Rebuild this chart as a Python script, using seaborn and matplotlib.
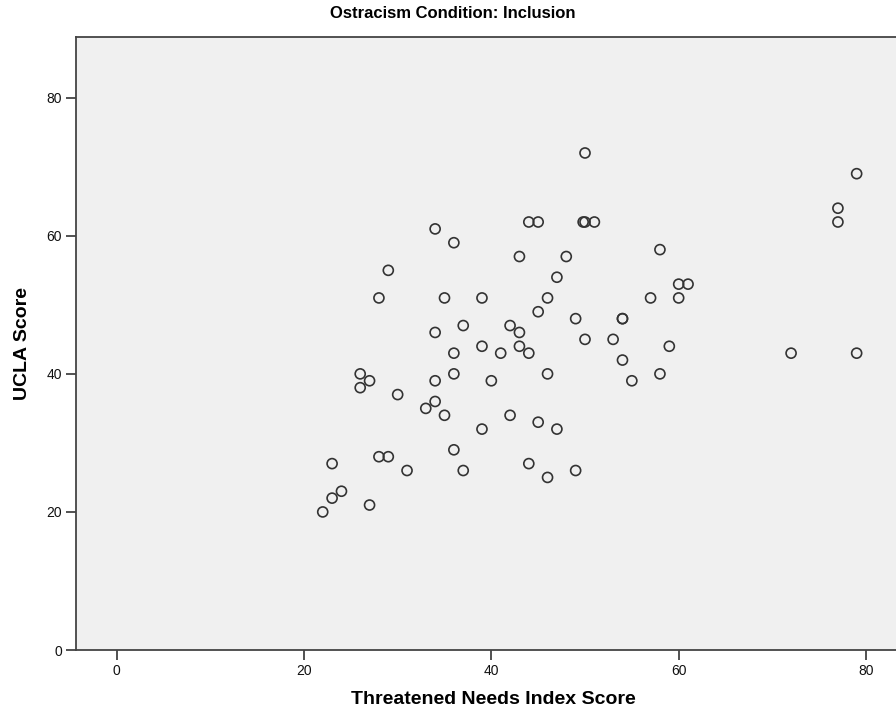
import numpy as np
import pandas as pd
import matplotlib
matplotlib.use("Agg")
import matplotlib.pyplot as plt
import seaborn as sns

# Threatened needs index (x) and UCLA loneliness score (y), inclusion condition
tni = [22, 23, 24, 27, 23, 28, 29, 31, 26, 27, 26, 30, 28, 29, 33, 34, 34, 34, 34,
       35, 35, 36, 36, 36, 36, 37, 37, 39, 39, 39, 40, 41, 42, 42, 43, 43, 43, 44,
       44, 44, 45, 45, 45, 46, 46, 46, 47, 47, 48, 49, 49, 50, 49.8, 50, 51, 50,
       53, 54, 54, 54, 55, 57, 58, 58, 59, 60, 61, 60, 72, 77, 77, 79, 79]
ucla = [20, 22, 23, 21, 27, 28, 28, 26, 40, 39, 38, 37, 51, 55, 35, 36, 39, 46, 61,
        34, 51, 59, 43, 40, 29, 26, 47, 51, 44, 32, 39, 43, 47, 34, 57, 46, 44, 62,
        43, 27, 62, 49, 33, 51, 40, 25, 54, 32, 57, 48, 26, 72, 62, 62, 62, 45,
        45, 48, 48, 42, 39, 51, 58, 40, 44, 53, 53, 51, 43, 64, 62, 69, 43]

df = pd.DataFrame({"tni": tni, "ucla": ucla})

sns.set_style("ticks")
plt.rcParams["font.family"] = ["Liberation Sans", "DejaVu Sans"]

fig = plt.figure(figsize=(8.96, 7.15), dpi=100)
ax = fig.add_axes([76 / 896, 65 / 715, 1 - 76 / 896, 613 / 715])
ax.set_facecolor("#f0f0f0")

sns.scatterplot(data=df, x="tni", y="ucla", ax=ax, marker="o", s=52,
                facecolors="none", edgecolor="#333333", linewidth=1.2)

ax.set_xlim(-4.34, 83.2)
ax.set_ylim(0, 88.8)
ax.set_xticks([0, 20, 40, 60, 80])
ax.set_yticks([0, 20, 40, 60, 80])
ax.tick_params(axis="both", direction="out", length=7, width=1.2, color="#333333",
               labelsize=10, labelcolor="#111111", pad=3)

for side in ["left", "bottom", "top"]:
    ax.spines[side].set_visible(True)
    ax.spines[side].set_color("#444444")
    ax.spines[side].set_linewidth(1.3)
ax.spines["right"].set_visible(False)

ax.set_xlabel("Threatened Needs Index Score", fontsize=14, fontweight="bold", color="black")
ax.set_ylabel("UCLA Score", fontsize=14, fontweight="bold", color="black")
ax.xaxis.set_label_coords((493 - 76) / 820, (650 - 700) / 613)
ax.yaxis.set_label_coords((22 - 76) / 820, 0.5)
ax.xaxis.label.set_va("center")
ax.yaxis.label.set_va("center")
fig.text(453 / 896, 1 - 14 / 715, "Ostracism Condition: Inclusion", ha="center", va="center",
         fontsize=12, fontweight="bold", color="black")

fig.savefig("out.png", dpi=100)
